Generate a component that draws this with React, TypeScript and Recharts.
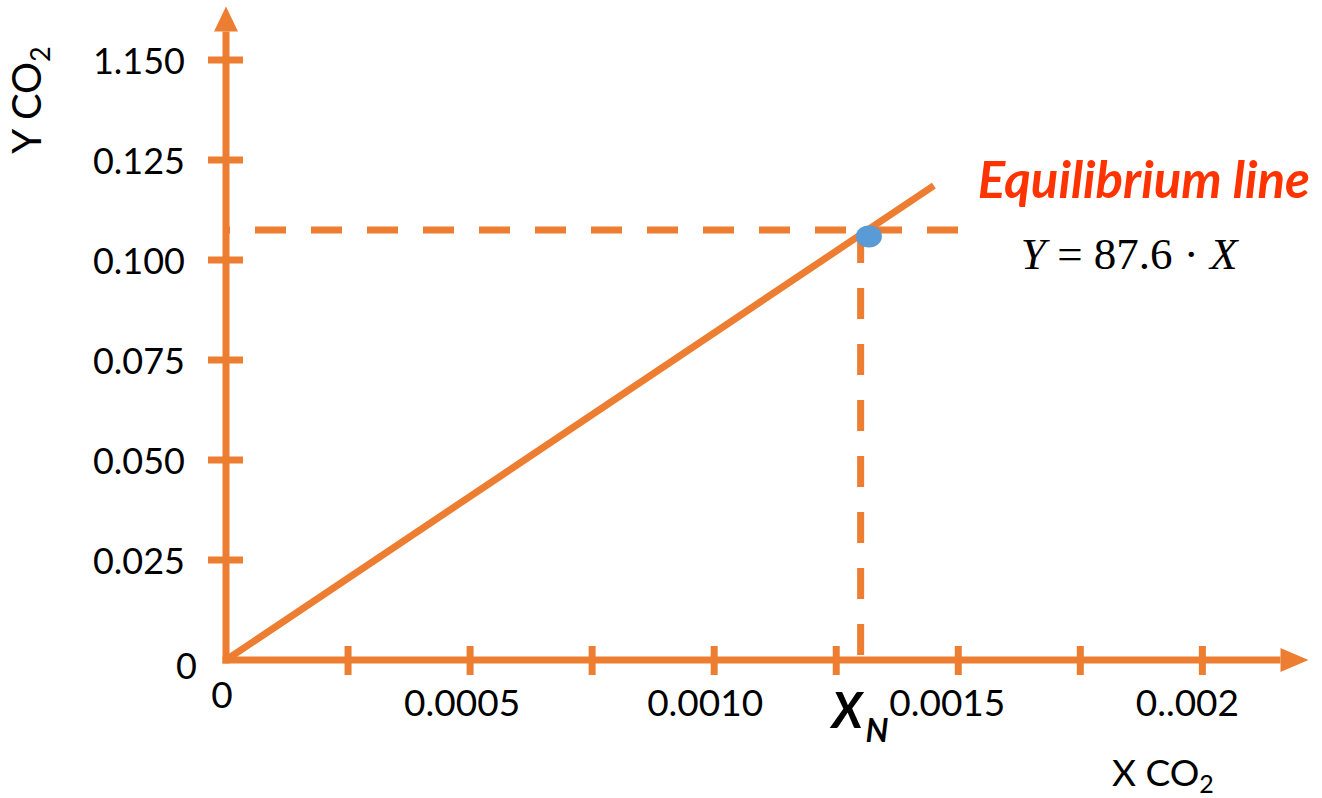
import {
  ComposedChart,
  Line,
  Scatter,
  XAxis,
  YAxis,
  ReferenceLine,
  ReferenceDot,
} from "recharts";

const ORANGE = "#ED7D31";
const BLUE = "#5B9BD5";
const RED = "#FF3300";
const FONT = "Lato, 'Open Sans', sans-serif";

// axis ticks and labels as printed in the figure
const xTicks = [0, 0.00025, 0.0005, 0.00075, 0.001, 0.00125, 0.0015, 0.00175, 0.002];
const xTickLabels = ["0", "", "0.0005", "", "0.0010", "", "0.0015", "", "0..002"];
const yTicks = [0, 0.025, 0.05, 0.075, 0.1, 0.125, 0.15];
const yTickLabels = ["0", "0.025", "0.050", "0.075", "0.100", "0.125", "1.150"];

// equilibrium line end points
const lineX = [0, 0.00145];
const lineY = [0, 0.1186];

// operating point and its guide lines
const pointX = [0.001317];
const pointY = [0.1059];
const xN = 0.0013;
const yGuide = 0.1075;
const guideEndX = 0.0015;

// axis extents (where the arrow heads begin)
const xAxisEnd = 0.00216;
const yAxisEnd = 0.1571;

const lineData = lineX.map((x, i) => ({ x, y: lineY[i] }));
const pointData = pointX.map((x, i) => ({ x, y: pointY[i] }));

const xLabelShift = [-4, 0, -8, 0, -9, 0, -11, 0, -15];

function XTick(props: any) {
  const { x, y, payload } = props;
  const i = xTicks.indexOf(payload.value);
  const origin = payload.value === 0;
  return (
    <g>
      {!origin && (
        <line x1={x} x2={x} y1={y - 14} y2={y + 15} stroke={ORANGE} strokeWidth={7} />
      )}
      <text
        x={x + (xLabelShift[i] ?? 0)}
        y={origin ? y + 33 : y + 41}
        textAnchor="middle"
        dominantBaseline="central"
        fontSize={37}
        fontFamily={FONT}
        fill="#000"
      >
        {xTickLabels[i]}
      </text>
    </g>
  );
}

function YTick(props: any) {
  const { x, y, payload } = props;
  const i = yTicks.indexOf(payload.value);
  const origin = payload.value === 0;
  return (
    <g>
      {!origin && (
        <line x1={x - 18} x2={x + 17} y1={y} y2={y} stroke={ORANGE} strokeWidth={7} />
      )}
      <text
        x={origin ? x - 29 : x - 41}
        y={origin ? y + 5 : y}
        textAnchor="end"
        dominantBaseline="central"
        fontSize={36}
        fontFamily={FONT}
        fill="#000"
      >
        {yTickLabels[i]}
      </text>
    </g>
  );
}

const XArrow = (p: any) => (
  <g>
    <line x1={p.x1 - 3.5} y1={p.y1} x2={p.x2} y2={p.y2} stroke={ORANGE} strokeWidth={7} />
    <polygon
      points={`${p.x2},${p.y2 - 12} ${p.x2 + 28},${p.y2} ${p.x2},${p.y2 + 12}`}
      fill={ORANGE}
    />
  </g>
);

const YArrow = (p: any) => (
  <g>
    <line x1={p.x1} y1={p.y1 + 3.5} x2={p.x2} y2={p.y2} stroke={ORANGE} strokeWidth={7} />
    <polygon
      points={`${p.x2 - 12},${p.y2} ${p.x2},${p.y2 - 25} ${p.x2 + 12},${p.y2}`}
      fill={ORANGE}
    />
  </g>
);

const XTitle = (p: any) => {
  const vb = p.viewBox || { x: 226, y: 660, width: 1074, height: 138 };
  return (
    <text x={vb.x + 886} y={vb.y + 126} fontSize={37} fontFamily={FONT} fill="#000">
      X CO
      <tspan fontSize={25} dy={7}>2</tspan>
    </text>
  );
};

const YTitle = (p: any) => {
  const vb = p.viewBox || { x: 0, y: 20, width: 226, height: 640 };
  const cx = vb.x + 41;
  const cy = vb.y + 80;
  return (
    <text
      x={cx}
      y={cy}
      transform={`rotate(-90, ${cx}, ${cy})`}
      textAnchor="middle"
      fontSize={40}
      fontFamily={FONT}
      fill="#000"
    >
      Y CO
      <tspan fontSize={27} dy={9}>2</tspan>
    </text>
  );
};

const LineCaption = (p: any) => (
  <g>
    <text
      x={p.cx + 44}
      y={p.cy + 12}
      fontSize={51}
      fontWeight="bold"
      fontStyle="italic"
      fontFamily={FONT}
      fill={RED}
    >
      Equilibrium line
    </text>
    <text
      x={p.cx + 87}
      y={p.cy + 83}
      fontSize={45}
      fontFamily="'Liberation Serif', 'DejaVu Serif', serif"
      fill="#000"
    >
      <tspan fontStyle="italic">Y</tspan> = 87.6 · <tspan fontStyle="italic">X</tspan>
    </text>
  </g>
);

const XNCaption = (p: any) => (
  <text
    x={p.cx - 29}
    y={p.cy + 68}
    fontSize={49}
    fontWeight="bold"
    fontStyle="italic"
    fontFamily={FONT}
    fill="#000"
  >
    X
    <tspan fontSize={32} dx={3} dy={14}>N</tspan>
  </text>
);

export default function App() {
  return (
    <div style={{ position: "absolute", left: 0, top: 0, background: "#fff" }}>
      <ComposedChart
        width={1322}
        height={798}
        data={lineData}
        margin={{ top: 20, right: 22, bottom: 0, left: 0 }}
      >
        <XAxis
          dataKey="x"
          type="number"
          domain={[0, 0.0022]}
          ticks={xTicks}
          interval={0}
          allowDataOverflow
          axisLine={false}
          tickLine={false}
          tickSize={0}
          tickMargin={0}
          height={138}
          tick={(props: any) => <XTick {...props} />}
          label={{ content: (p: any) => <XTitle {...p} /> }}
        />
        <YAxis
          type="number"
          domain={[0, 0.16]}
          ticks={yTicks}
          interval={0}
          allowDataOverflow
          axisLine={false}
          tickLine={false}
          tickSize={0}
          tickMargin={0}
          width={226}
          tick={(props: any) => <YTick {...props} />}
          label={{ content: (p: any) => <YTitle {...p} /> }}
        />
        <ReferenceLine
          segment={[{ x: 0, y: yGuide }, { x: guideEndX, y: yGuide }]}
          stroke={ORANGE}
          strokeWidth={7}
          strokeDasharray="31 25"
          strokeDashoffset={27}
          ifOverflow="visible"
        />
        <ReferenceLine
          segment={[{ x: xN, y: 0 }, { x: xN, y: yGuide }]}
          stroke={ORANGE}
          strokeWidth={7}
          strokeDasharray="31 25"
          strokeDashoffset={51}
          ifOverflow="visible"
        />
        <ReferenceLine
          segment={[{ x: 0, y: 0 }, { x: xAxisEnd, y: 0 }]}
          ifOverflow="visible"
          shape={XArrow}
        />
        <ReferenceLine
          segment={[{ x: 0, y: 0 }, { x: 0, y: yAxisEnd }]}
          ifOverflow="visible"
          shape={YArrow}
        />
        <Line
          dataKey="y"
          stroke={ORANGE}
          strokeWidth={7}
          dot={false}
          activeDot={false}
          isAnimationActive={false}
        />
        <Scatter
          data={pointData}
          dataKey="y"
          fill={BLUE}
          isAnimationActive={false}
          shape={(p: any) => <ellipse cx={p.cx} cy={p.cy} rx={13} ry={11} fill={BLUE} />}
        />
        <ReferenceDot
          x={lineX[1]}
          y={lineY[1]}
          ifOverflow="visible"
          shape={LineCaption}
        />
        <ReferenceDot x={xN} y={0} ifOverflow="visible" shape={XNCaption} />
      </ComposedChart>
    </div>
  );
}
